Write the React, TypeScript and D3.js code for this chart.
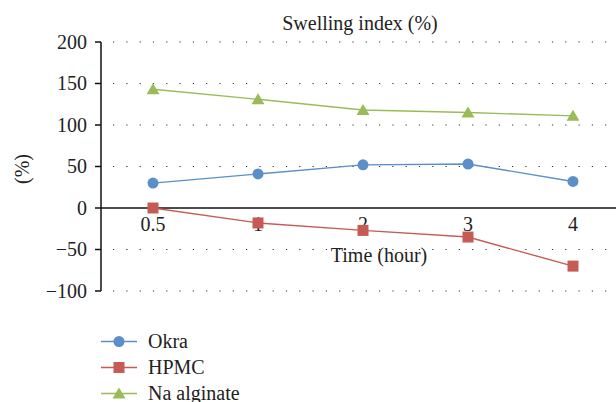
import React from "react";
import * as d3 from "d3";

const categories = ["0.5", "1", "2", "3", "4"];
const okra = [30, 41, 52, 53, 32];
const hpmc = [0, -18, -27, -35, -70];
const naAlginate = [143, 131, 118, 115, 111];
const yTicks = [-100, -50, 0, 50, 100, 150, 200];

const series = [
  { name: "Okra", values: okra, color: "#5b8fc7", marker: "circle" },
  { name: "HPMC", values: hpmc, color: "#c65a55", marker: "square" },
  { name: "Na alginate", values: naAlginate, color: "#9bbb59", marker: "triangle" },
];

const font = '"Liberation Serif", "Times New Roman", serif';

function Marker({ type, x, y, color }: { type: string; x: number; y: number; color: string }) {
  if (type === "circle") return <circle cx={x} cy={y} r={5.5} fill={color} />;
  if (type === "square") return <rect x={x - 5.5} y={y - 5.5} width={11} height={11} fill={color} />;
  const p = `M${x},${y - 6}L${x + 6.5},${y + 5}L${x - 6.5},${y + 5}Z`;
  return <path d={p} fill={color} />;
}

export default function App() {
  const W = 616, H = 402;
  const x = d3.scaleBand().domain(categories).range([100.5, 625.5]);
  const y = d3.scaleLinear().domain([-100, 200]).range([291, 42]);
  const cx = (c: string) => (x(c) as number) + x.bandwidth() / 2;
  const line = d3
    .line<number>()
    .x((_, i) => cx(categories[i]))
    .y((v) => y(v));
  const ts: React.CSSProperties = { fontFamily: font, fontSize: 20 };

  return (
    <svg width={W} height={H} style={{ position: "absolute", left: 0, top: 0, background: "#fff" }}>
      <text x={360} y={30} textAnchor="middle" style={ts} fill="#222">Swelling index (%)</text>
      {yTicks.filter((t) => t !== 0).map((t) => (
        <line key={t} x1={113} x2={614} y1={y(t)} y2={y(t)} stroke="#333" strokeWidth={1.2} strokeDasharray="1.2 12.1" />
      ))}
      <line x1={101} x2={101} y1={y(200)} y2={y(-100)} stroke="#111" strokeWidth={1.5} />
      {yTicks.map((t) => (
        <g key={t}>
          <line x1={95} x2={101} y1={y(t)} y2={y(t)} stroke="#111" strokeWidth={1.5} />
          <text x={87} y={y(t)} dy="0.33em" textAnchor="end" style={ts} fill="#222">
            {t < 0 ? "\u2212" + Math.abs(t) : t}
          </text>
        </g>
      ))}
      <line x1={101} x2={616} y1={y(0)} y2={y(0)} stroke="#111" strokeWidth={1.5} />
      {categories.map((c) => (
        <text key={c} x={cx(c)} y={231} textAnchor="middle" style={ts} fill="#222">{c}</text>
      ))}
      <text x={379} y={262} textAnchor="middle" style={ts} fill="#222">Time (hour)</text>
      <text transform={`translate(29,169) rotate(-90)`} textAnchor="middle" style={ts} fill="#222">(%)</text>
      {series.map((s) => (
        <g key={s.name}>
          <path d={line(s.values) || ""} fill="none" stroke={s.color} strokeWidth={1.4} />
          {s.values.map((v, i) => (
            <Marker key={i} type={s.marker} x={cx(categories[i])} y={y(v)} color={s.color} />
          ))}
        </g>
      ))}
      {series.map((s, i) => {
        const ly = 341.5 + i * 26;
        return (
          <g key={s.name}>
            <line x1={101} x2={137} y1={ly} y2={ly} stroke={s.color} strokeWidth={1.4} />
            <Marker type={s.marker} x={119} y={ly} color={s.color} />
            <text x={148} y={ly} dy="0.33em" style={ts} fill="#222">{s.name}</text>
          </g>
        );
      })}
    </svg>
  );
}
